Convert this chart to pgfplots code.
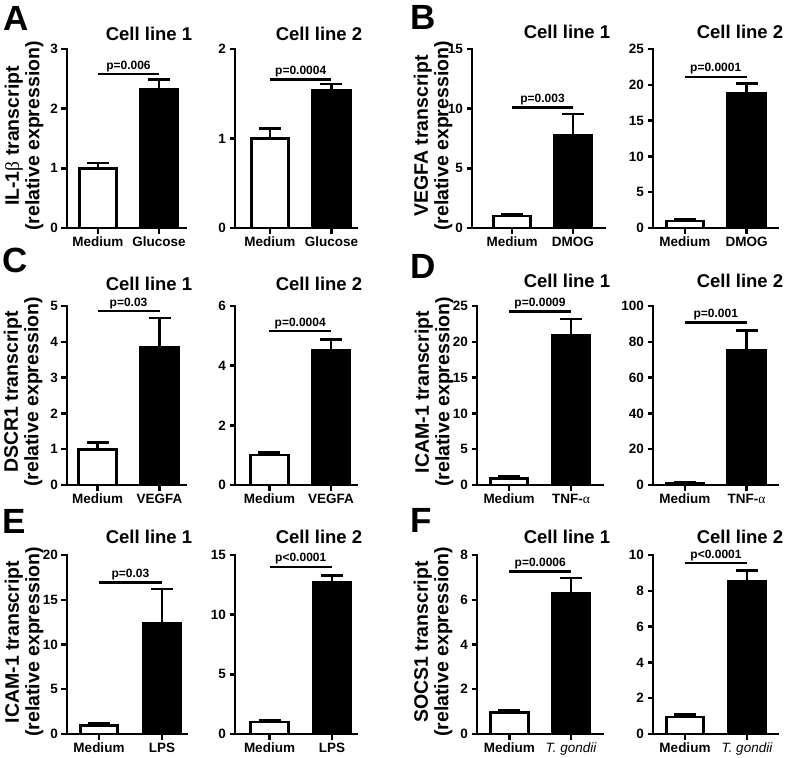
\documentclass[border=0pt]{standalone}
\usepackage{fontspec}
\setmainfont{Liberation Sans}
\newfontfamily\symfont{Liberation Serif}
\usepackage{pgfplots}
\pgfplotsset{compat=1.18}
\newcommand{\fs}[1]{\fontsize{#1}{#1}\selectfont\bfseries}
\newcommand{\al}{{\symfont\mdseries α}}
\newcommand{\be}{{\symfont\mdseries β}}
\pgfplotsset{
  cell/.style={
    scale only axis, height=179pt, clip=false,
    axis x line*=bottom, axis y line*=left,
    axis line style={line width=2.7pt, -, line cap=rect},
    tick align=outside, major tick length=5.5pt,
    tick style={black, line width=2.4pt},
    xtick={1,2}, ymin=0, scaled y ticks=false,
    tick label style={font=\fs{13.5}},
    /pgf/number format/assume math mode=true,
    anchor=south west,
  },
  medium/.style={ybar, bar shift=0pt, bar width=37.5pt, fill=white, draw=black, line width=2.6pt,
    error bars/.cd, y dir=plus, y explicit,
    error bar style={line width=2.6pt, black},
    error mark options={rotate=90, mark size=11pt, line width=2.6pt, black}},
  treat/.style={ybar, bar shift=0pt, bar width=37.5pt, fill=black, draw=black, line width=2.6pt,
    error bars/.cd, y dir=plus, y explicit,
    error bar style={line width=2.6pt, black},
    error mark options={rotate=90, mark size=11pt, line width=2.6pt, black}},
  bracket/.style={line width=2.6pt, black},
}
\tikzset{pval/.style={font=\fs{12}, anchor=base, yshift=5pt, inner sep=0pt},
  ttl/.style={font=\fs{18.5}, anchor=base, inner sep=0pt},
  letter/.style={font=\fs{35}, anchor=base west, inner sep=0pt},
  ylab/.style={font=\fontsize{19.5}{20.5}\selectfont\bfseries, rotate=90, align=center, anchor=center, inner sep=0pt}}
\begin{document}
\begin{tikzpicture}
\useasboundingbox (0pt,0pt) rectangle (785pt,-758pt);
% ---------- Row 1 ----------
\node[letter] at (3pt,-30pt) {A};
\node[letter] at (410pt,-29pt) {B};
\node[ttl] at (149pt,-40pt) {Cell line 1};
\node[ttl] at (319pt,-40pt) {Cell line 2};
\node[ttl] at (567pt,-38pt) {Cell line 1};
\node[ttl] at (740pt,-38pt) {Cell line 2};
\node[ylab] at (24pt,-136pt) {IL-1\be{} transcript\\(relative expression)};
\node[ylab] at (433pt,-136pt) {VEGFA transcript\\(relative expression)};

\begin{axis}[cell, at={(67pt,-228pt)}, width=119pt, xmin=0.492, xmax=2.443, ymax=3, ytick={0,1,2,3}, xticklabels={Medium,Glucose}]
\addplot[medium] coordinates {(1,1.0) +- (0,0.09)};
\addplot[treat] coordinates {(2,2.33) +- (0,0.16)};
\addplot[bracket] coordinates {(1,2.58) (2,2.58)};
\node[pval] at (axis cs:1.5,2.58) {p=0.006};
\end{axis}

\begin{axis}[cell, at={(235pt,-228pt)}, width=122pt, xmin=0.431, xmax=2.415, ymax=2, ytick={0,1,2}, xticklabels={Medium,Glucose}]
\addplot[medium] coordinates {(1,1.0) +- (0,0.11)};
\addplot[treat] coordinates {(2,1.54) +- (0,0.07)};
\addplot[bracket] coordinates {(1,1.66) (2,1.66)};
\node[pval] at (axis cs:1.5,1.66) {p=0.0004};
\end{axis}

\begin{axis}[cell, at={(472pt,-228pt)}, width=133pt, xmin=0.344, xmax=2.525, ymax=15, ytick={0,5,10,15}, xticklabels={Medium,DMOG}]
\addplot[medium] coordinates {(1,1.0) +- (0,0.17)};
\addplot[treat] coordinates {(2,7.75) +- (0,1.81)};
\addplot[bracket] coordinates {(1,10.1) (2,10.1)};
\node[pval] at (axis cs:1.5,10.1) {p=0.003};
\end{axis}

\begin{axis}[cell, at={(653pt,-228pt)}, width=125pt, xmin=0.48, xmax=2.512, ymax=25, ytick={0,5,10,15,20,25}, xticklabels={Medium,DMOG}]
\addplot[medium] coordinates {(1,1.0) +- (0,0.16)};
\addplot[treat] coordinates {(2,18.8) +- (0,1.4)};
\addplot[bracket] coordinates {(1,21.1) (2,21.1)};
\node[pval] at (axis cs:1.5,21.1) {p=0.0001};
\end{axis}

% ---------- Row 2 ----------
\node[letter] at (2pt,-272pt) {C};
\node[letter] at (410pt,-278pt) {D};
\node[ttl] at (149pt,-290pt) {Cell line 1};
\node[ttl] at (319pt,-290pt) {Cell line 2};
\node[ttl] at (567pt,-287pt) {Cell line 1};
\node[ttl] at (740pt,-287pt) {Cell line 2};
\node[ylab] at (23pt,-392pt) {DSCR1 transcript\\(relative expression)};
\node[ylab] at (434pt,-392pt) {ICAM-1 transcript\\(relative expression)};

\begin{axis}[cell, at={(67pt,-485pt)}, width=119pt, xmin=0.508, xmax=2.427, ymax=5, ytick={0,1,2,3,4,5}, xticklabels={Medium,VEGFA}]
\addplot[medium] coordinates {(1,1.0) +- (0,0.18)};
\addplot[treat] coordinates {(2,3.85) +- (0,0.82)};
\addplot[bracket] coordinates {(1,4.86) (2,4.86)};
\node[pval] at (axis cs:1.5,4.86) {p=0.03};
\end{axis}

\begin{axis}[cell, at={(235pt,-485pt)}, width=122pt, xmin=0.439, xmax=2.423, ymax=6, ytick={0,2,4,6}, xticklabels={Medium,VEGFA}]
\addplot[medium] coordinates {(1,1.0) +- (0,0.09)};
\addplot[treat] coordinates {(2,4.52) +- (0,0.36)};
\addplot[bracket] coordinates {(1,5.16) (2,5.16)};
\node[pval] at (axis cs:1.5,5.16) {p=0.0004};
\end{axis}

\begin{axis}[cell, at={(477pt,-485pt)}, width=126pt, xmin=0.484, xmax=2.516, ymax=25, ytick={0,5,10,15,20,25}, xticklabels={Medium,TNF-\al}]
\addplot[medium] coordinates {(1,0.95) +- (0,0.2)};
\addplot[treat] coordinates {(2,20.9) +- (0,2.3)};
\addplot[bracket] coordinates {(1,24.2) (2,24.2)};
\node[pval] at (axis cs:1.5,24.2) {p=0.0009};
\end{axis}

\begin{axis}[cell, at={(653pt,-485pt)}, width=125pt, xmin=0.48, xmax=2.512, ymax=100, ytick={0,20,40,60,80,100}, xticklabels={Medium,TNF-\al}]
\addplot[medium] coordinates {(1,0.9) +- (0,0.6)};
\addplot[treat] coordinates {(2,75) +- (0,11.3)};
\addplot[bracket] coordinates {(1,90.8) (2,90.8)};
\node[pval] at (axis cs:1.5,90.8) {p=0.001};
\end{axis}

% ---------- Row 3 ----------
\node[letter] at (2pt,-533pt) {E};
\node[letter] at (410pt,-532pt) {F};
\node[ttl] at (149pt,-543pt) {Cell line 1};
\node[ttl] at (319pt,-543pt) {Cell line 2};
\node[ttl] at (567pt,-543pt) {Cell line 1};
\node[ttl] at (740pt,-543pt) {Cell line 2};
\node[ylab] at (24pt,-642pt) {ICAM-1 transcript\\(relative expression)};
\node[ylab] at (433pt,-642pt) {SOCS1 transcript\\(relative expression)};

\begin{axis}[cell, at={(67pt,-734pt)}, width=120pt, xmin=0.492, xmax=2.397, ymax=20, ytick={0,5,10,15,20}, xticklabels={Medium,LPS}]
\addplot[medium] coordinates {(1,0.95) +- (0,0.2)};
\addplot[treat] coordinates {(2,12.4) +- (0,3.8)};
\addplot[bracket] coordinates {(1,16.9) (2,16.9)};
\node[pval] at (axis cs:1.5,16.9) {p=0.03};
\end{axis}

\begin{axis}[cell, at={(235pt,-734pt)}, width=122pt, xmin=0.448, xmax=2.4, ymax=15, ytick={0,5,10,15}, xticklabels={Medium,LPS}]
\addplot[medium] coordinates {(1,1.0) +- (0,0.12)};
\addplot[treat] coordinates {(2,12.7) +- (0,0.6)};
\addplot[bracket] coordinates {(1,14.0) (2,14.0)};
\node[pval] at (axis cs:1.5,14.0) {p<0.0001};
\end{axis}

\begin{axis}[cell, at={(477pt,-734pt)}, width=126pt, xmin=0.472, xmax=2.52, ymax=8, ytick={0,2,4,6,8}, xticklabels={Medium,{\mdseries\itshape T. gondii}}]
\addplot[medium] coordinates {(1,0.97) +- (0,0.1)};
\addplot[treat] coordinates {(2,6.3) +- (0,0.68)};
\addplot[bracket] coordinates {(1,7.27) (2,7.27)};
\node[pval] at (axis cs:1.5,7.27) {p=0.0006};
\end{axis}

\begin{axis}[cell, at={(653pt,-734pt)}, width=125pt, xmin=0.484, xmax=2.5, ymax=10, ytick={0,2,4,6,8,10}, xticklabels={Medium,{\mdseries\itshape T. gondii}}]
\addplot[medium] coordinates {(1,0.95) +- (0,0.14)};
\addplot[treat] coordinates {(2,8.55) +- (0,0.57)};
\addplot[bracket] coordinates {(1,9.55) (2,9.55)};
\node[pval] at (axis cs:1.5,9.55) {p<0.0001};
\end{axis}
\end{tikzpicture}
\end{document}
